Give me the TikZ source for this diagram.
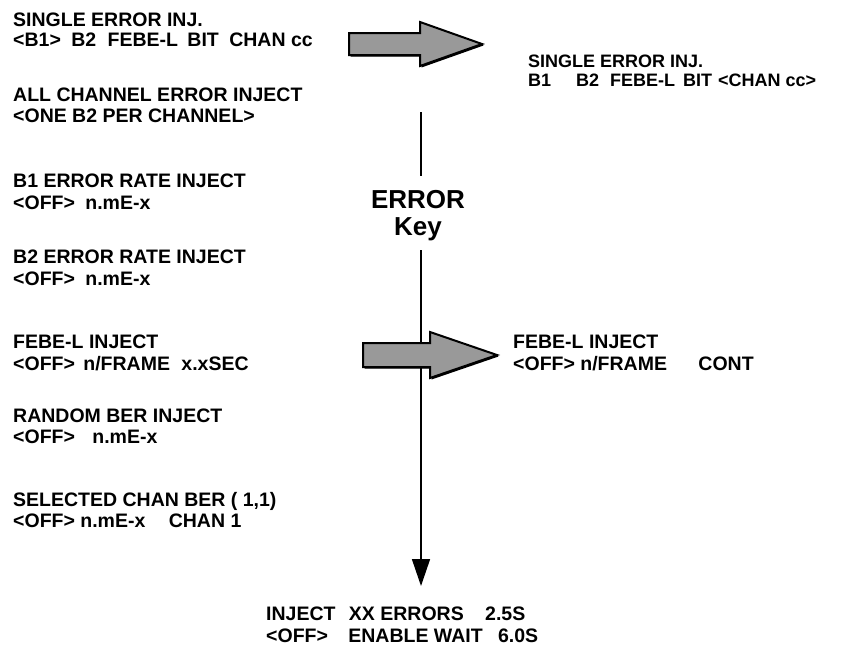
\documentclass[tikz,border=0pt]{standalone}
\usepackage{fontspec}
\setmainfont{Liberation Sans}
\usetikzlibrary{arrows.meta}
\tikzset{
  menu/.style={anchor=base west, inner sep=0pt, font=\bfseries\fontsize{19.5}{20}\selectfont},
  menusmall/.style={menu, font=\bfseries\fontsize{18}{19}\selectfont},
  keylabel/.style={anchor=base, inner sep=0pt, font=\bfseries\fontsize{26}{26}\selectfont},
  fatarrow/.style={draw=black, line width=2pt, line join=miter, fill=black!40},
  keyline/.style={line width=1.6pt}
}
\newcommand\gp[1]{\ \hspace*{#1pt}}
\begin{document}
\begin{tikzpicture}[x=1pt,y=-1pt]
\useasboundingbox (0,0) rectangle (842,648);

% left column: menu screens reached by the ERROR key
\node[menu] (s1a) at (13,26)  {SINGLE ERROR INJ.};
\node[menu] (s1b) at (13,46)  {<B1>\gp{5}B2\gp{6}FEBE-L\gp{4}BIT\gp{5}CHAN cc};
\node[menu] (s2a) at (13,101) {ALL CHANNEL ERROR INJECT};
\node[menu] (s2b) at (13,122) {<ONE B2 PER CHANNEL>};
\node[menu] (s3a) at (13,187) {B1 ERROR RATE INJECT};
\node[menu] (s3b) at (13,209) {<OFF>\gp{5}n.mE-x};
\node[menu] (s4a) at (13,263) {B2 ERROR RATE INJECT};
\node[menu] (s4b) at (13,285) {<OFF>\gp{5}n.mE-x};
\node[menu] (s5a) at (13,348) {FEBE-L INJECT};
\node[menu] (s5b) at (13,370) {<OFF>\gp{3}n/FRAME\gp{6}x.xSEC};
\node[menu] (s6a) at (13,422) {RANDOM BER INJECT};
\node[menu] (s6b) at (13,443) {<OFF>\gp{12}n.mE-x};
\node[menu] (s7a) at (13,506) {SELECTED CHAN BER ( 1,1)};
\node[menu] (s7b) at (13,527) {<OFF> n.mE-x\gp{18}CHAN 1};

% right column: screens after a cursor move
\node[menusmall] (r1a) at (528,67) {SINGLE ERROR INJ.};
\node[menusmall] (r1b) at (528,86) {B1\gp{20}B2\gp{6}FEBE-L\gp{3}BIT\gp{1}<CHAN cc>};
\node[menu] (r2a) at (513,348) {FEBE-L INJECT};
\node[menu] (r2b) at (513,370) {<OFF> n/FRAME\gp{26}CONT};

% bottom screen
\node[menu] (b1a) at (266,620) {INJECT\gp{8}XX ERRORS\gp{16}2.5S};
\node[menu] (b1b) at (266,642) {<OFF>\gp{15}ENABLE WAIT\gp{10}6.0S};

% ERROR key and its scroll line
\node[keylabel] (key1) at (418,208) {ERROR};
\node[keylabel] (key2) at (418,235) {Key};
\coordinate (top) at (421,112);
\coordinate (upend) at (421,176);
\coordinate (lowstart) at (421,250);
\coordinate (tip) at (421,586);
\draw[keyline] (top) -- (upend);
\draw[keyline, -{Triangle[length=27pt,width=18pt]}] (lowstart) -- (tip);

% fat arrows: tail x / head base x / tip x / centre y / half body / half head
\foreach \l/\hb/\t/\cy/\bh/\hh in {349/420/482/44/11/22, 363/430/497/355/12/23}{
  \fill[black] (\l+1.5,\cy-\bh+1.5) -- (\hb+1.5,\cy-\bh+1.5) -- (\hb+1.5,\cy-\hh+1.5) -- (\t+1.5,\cy+1.5)
     -- (\hb+1.5,\cy+\hh+1.5) -- (\hb+1.5,\cy+\bh+1.5) -- (\l+1.5,\cy+\bh+1.5) -- cycle;
  \draw[fatarrow] (\l,\cy-\bh) -- (\hb,\cy-\bh) -- (\hb,\cy-\hh) -- (\t,\cy)
     -- (\hb,\cy+\hh) -- (\hb,\cy+\bh) -- (\l,\cy+\bh) -- cycle;
}
\end{tikzpicture}
\end{document}
